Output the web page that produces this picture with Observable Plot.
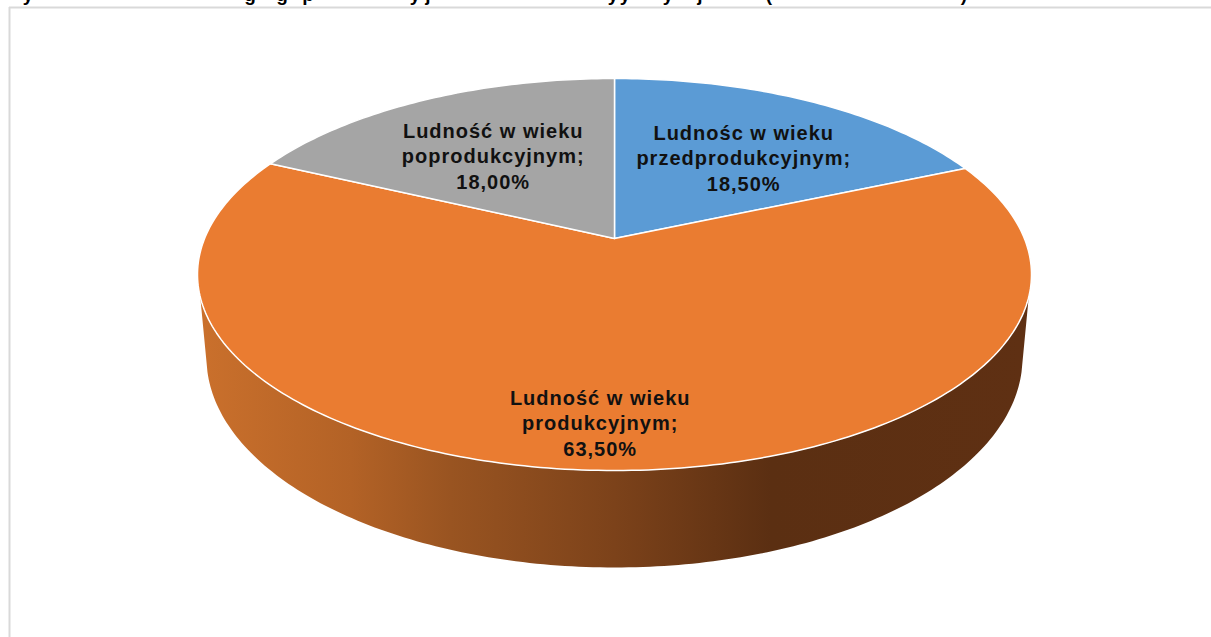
<!DOCTYPE html>
<html lang="pl">
<head>
<meta charset="utf-8">
<title>Ludność w wieku</title>
<script src="https://cdn.jsdelivr.net/npm/d3@7"></script>
<script src="https://cdn.jsdelivr.net/npm/@observablehq/plot@0.6"></script>
<style>
html,body{margin:0;padding:0;background:#fff;overflow:hidden}
svg{display:block}
</style>
</head>
<body>
<div id="chart"></div>
<script>
// Data (clockwise from 12 o'clock)
const categories = ["Ludnośc w wieku przedprodukcyjnym", "Ludność w wieku produkcyjnym", "Ludność w wieku poprodukcyjnym"];
const shares = [18.5, 63.5, 18.0];
const shareLabels = ["18,50%", "63,50%", "18,00%"];
const labelLines = [["Ludnośc w wieku", "przedprodukcyjnym;"], ["Ludność w wieku", "produkcyjnym;"], ["Ludność w wieku", "poprodukcyjnym;"]];
const colors = ["#5B9BD5", "#EA7C31", "#A5A5A5"];
// Only the descenders of the source title survive at the top edge of the picture
const titleGlyphs = ["y", "g", "g", "p", "y", "j", "y", "y", "y", "j", "(", ")"];

// Perspective pie geometry
const W = 1211, H = 637, cx = 614, apexY = 238, A = 189.4, B = 409.9, k = 0.1837;
const rad = d => d * Math.PI / 180;
function topPoint(theta, r = 1) {
  const u = r * Math.sin(theta), v = r * Math.cos(theta), d = 1 + k * v;
  return {x: cx + B * u / d, y: apexY - A * v / d};
}
const lowerPoint = phi => ({x: cx + 408 * Math.sin(phi), y: 357 + 210 * Math.cos(phi)});

let acc = 0;
const slices = categories.map((name, i) => {
  const a0 = acc / 100 * 2 * Math.PI; acc += shares[i];
  const a1 = acc / 100 * 2 * Math.PI;
  return {name, i, a0, a1, mid: (a0 + a1) / 2};
});
const topFaces = slices.flatMap(s => {
  const n = Math.ceil((s.a1 - s.a0) * 60);
  const rim = d3.range(n + 1).map(j => ({name: s.name, ...topPoint(s.a0 + (s.a1 - s.a0) * j / n)}));
  const apex = {name: s.name, x: cx, y: apexY};
  return [apex, ...rim, apex];
});

// Visible side wall of the orange slice: upper rim left-to-right around the front, then lower rim right-to-left
const wallPath = [
  ...d3.range(73, -73.5, -1).map(d => topPoint(rad(180 + d))),
  ...d3.range(86, -86.5, -1).map(d => lowerPoint(rad(d)))
];

const gradientStops = [[200, "#CA702C"], [350, "#B36226"], [450, "#995421"], [614, "#7C421A"], [770, "#5B2F12"], [1030, "#5F3013"]];

// Label anchors: radial position in each slice plus a small sideways nudge
const labelRadius = [0.54, 0.832, 0.55];
const labelNudge = [17, -8, -10];
const labels = slices.map(s => {
  const p = topPoint(s.mid, labelRadius[s.i]);
  return {x: p.x + labelNudge[s.i], y: p.y, text: [...labelLines[s.i], shareLabels[s.i]].join("\n")};
});

const titleX = [28, 250, 282, 308, 415, 428, 613, 625, 668, 700, 769, 964];
const titleData = titleGlyphs.map((g, i) => ({g, x: titleX[i]}));

const chart = Plot.plot({
  width: W, height: H, margin: 0,
  style: {background: "#fff", fontFamily: "'Liberation Sans', Arial, sans-serif", letterSpacing: "1px"},
  x: {domain: [0, W], range: [0, W], axis: null},
  y: {domain: [0, H], range: [0, H], axis: null},
  color: {domain: categories, range: colors},
  marks: [
    (index, {x}) => {
      const defs = d3.create("svg:defs");
      const g = defs.append("linearGradient").attr("id", "wall").attr("gradientUnits", "userSpaceOnUse")
        .attr("x1", x(200)).attr("x2", x(1030)).attr("y1", 0).attr("y2", 0);
      gradientStops.forEach(([px, c]) => g.append("stop").attr("offset", (px - 200) / 830).attr("stop-color", c));
      return defs.node();
    },
    Plot.ruleX([9], {y1: 7, y2: H, stroke: "#d9d9d9", strokeWidth: 2}),
    Plot.ruleY([7], {x1: 9, x2: W, stroke: "#d9d9d9", strokeWidth: 2}),
    Plot.text(titleData, {x: "x", y: 0, text: "g", fontSize: 19, fontWeight: "bold", fill: "#000", lineAnchor: "bottom"}),
    Plot.line(wallPath, {x: "x", y: "y", fill: "url(#wall)", stroke: "none", curve: "linear"}),
    Plot.line(topFaces, {x: "x", y: "y", z: "name", fill: "name", stroke: "#fff", strokeWidth: 1.5, strokeLinejoin: "round", curve: "linear"}),
    Plot.text(labels, {x: "x", y: "y", text: "text", dy: -2.5, fontSize: 20, fontWeight: "bold", fill: "#111", lineHeight: 1.28, textAnchor: "middle", lineAnchor: "middle"})
  ]
});
document.getElementById("chart").append(chart);
</script>
</body>
</html>
